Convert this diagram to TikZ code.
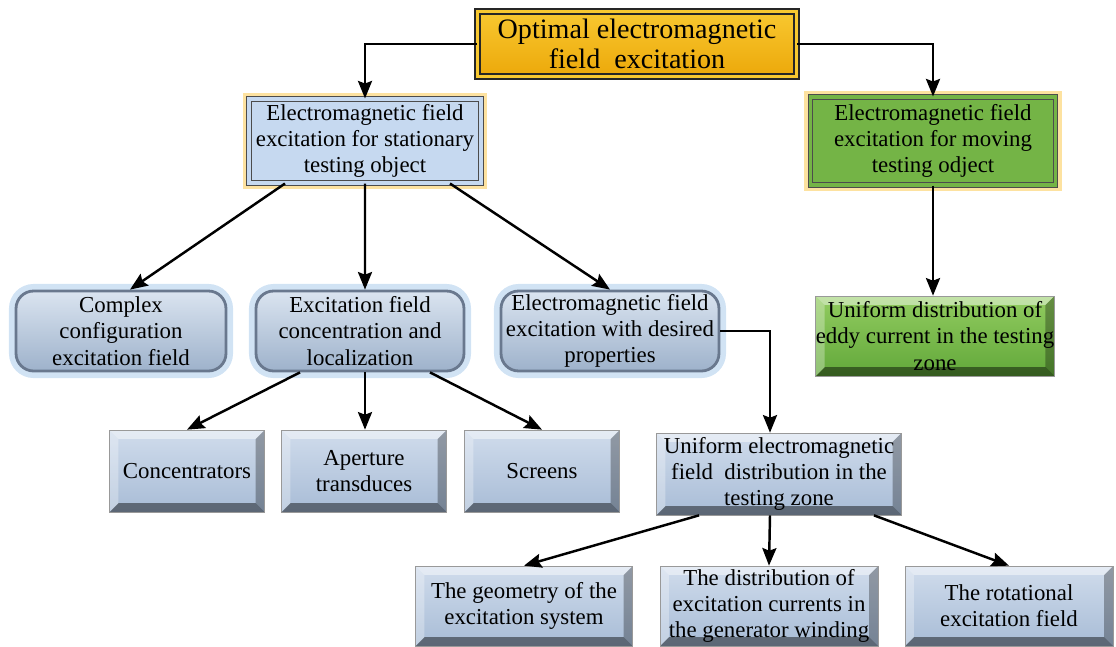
\documentclass[tikz,border=0pt]{standalone}
\usepackage{fontspec}
\setmainfont{Liberation Serif}
\usepackage{xcolor}
\usepackage{tikz}
\usetikzlibrary{arrows.meta,shadings}

\definecolor{goldtop}{RGB}{248,200,48}
\definecolor{goldbot}{RGB}{236,168,10}
\definecolor{glowyellow}{RGB}{253,226,160}
\definecolor{statfill}{RGB}{198,217,240}
\definecolor{movfill}{RGB}{116,180,70}
\definecolor{glowblue}{RGB}{190,215,240}
\definecolor{roundtop}{RGB}{218,228,240}
\definecolor{roundbot}{RGB}{158,178,203}
\definecolor{roundline}{RGB}{105,120,142}
\definecolor{beveltop}{RGB}{208,220,236}
\definecolor{bevelbot}{RGB}{168,188,214}
\definecolor{eddytop}{RGB}{146,204,96}
\definecolor{eddybot}{RGB}{98,168,58}

\tikzset{
  txt/.style={font=\rmfamily\fontsize{13}{15}\selectfont, align=center, inner sep=0pt},
  arr/.style={-{Stealth[length=10pt,width=8pt,inset=1.5pt]}, line width=1.4pt},
  topbox/.style={txt, font=\rmfamily\fontsize{16}{17.5}\selectfont, top color=goldtop, bottom color=goldbot,
    draw=black!85, double=goldtop, double distance=2.2pt, line width=0.8pt},
  glowbox/.style={txt, preaction={draw=glowyellow, line width=7pt},
    draw=black!70, double=#1, double distance=2pt, line width=0.6pt, fill=#1},
  roundbox/.style={txt, rounded corners=10pt, top color=roundtop, bottom color=roundbot,
    preaction={draw=glowblue, line width=8pt, opacity=0.7},
    draw=roundline, line width=1.6pt},
  bevelbox/.style={txt, top color=beveltop, bottom color=bevelbot, draw=black!40, line width=0.4pt,
    path picture={
      \fill[black, opacity=0.45] (path picture bounding box.south west) -- (path picture bounding box.south east)
        -- ([shift={(-5pt,5pt)}]path picture bounding box.south east) -- ([shift={(5pt,5pt)}]path picture bounding box.south west) -- cycle;
      \fill[black, opacity=0.3] (path picture bounding box.south east) -- (path picture bounding box.north east)
        -- ([shift={(-5pt,-5pt)}]path picture bounding box.north east) -- ([shift={(-5pt,5pt)}]path picture bounding box.south east) -- cycle;
      \fill[white, opacity=0.45] (path picture bounding box.north west) -- (path picture bounding box.north east)
        -- ([shift={(-5pt,-5pt)}]path picture bounding box.north east) -- ([shift={(5pt,-5pt)}]path picture bounding box.north west) -- cycle;
      \fill[white, opacity=0.3] (path picture bounding box.south west) -- (path picture bounding box.north west)
        -- ([shift={(5pt,-5pt)}]path picture bounding box.north west) -- ([shift={(5pt,5pt)}]path picture bounding box.south west) -- cycle;
    }},
  eddybox/.style={bevelbox, top color=eddytop, bottom color=eddybot}
}

\begin{document}
\begin{tikzpicture}[x=0.02cm, y=-0.02cm]
\useasboundingbox (0,0) rectangle (1116,646);

% top level
\node[topbox, minimum width=6.38cm, minimum height=1.3cm] (optimal) at (637,44) {Optimal electromagnetic\\field\ \ excitation};

% second level
\node[glowbox=statfill, minimum width=4.64cm, minimum height=1.68cm] (stationary) at (365,141)
  {Electromagnetic field\\excitation for stationary\\testing object};
\node[glowbox=movfill, minimum width=4.9cm, minimum height=1.76cm] (moving) at (933,141)
  {Electromagnetic field\\excitation for moving\\testing odject};

% third level
\node[roundbox, minimum width=4.2cm, minimum height=1.6cm] (complex) at (121,331)
  {Complex\\configuration\\excitation field};
\node[roundbox, minimum width=4.16cm, minimum height=1.6cm] (concentration) at (360,331)
  {Excitation field\\concentration and\\localization};
\node[roundbox, minimum width=4.36cm, minimum height=1.6cm] (desired) at (610,331)
  {Electromagnetic field\\excitation with desired\\properties};
\node[eddybox, minimum width=4.76cm, minimum height=1.6cm] (eddy) at (935,336)
  {Uniform distribution of\\eddy current in the testing\\zone};

% fourth level
\node[bevelbox, minimum width=3.1cm, minimum height=1.64cm] (concentrators) at (187,471) {Concentrators};
\node[bevelbox, minimum width=3.3cm, minimum height=1.64cm] (aperture) at (364,471) {Aperture\\transduces};
\node[bevelbox, minimum width=3.1cm, minimum height=1.64cm] (screens) at (542,471) {Screens};
\node[bevelbox, minimum width=4.9cm, minimum height=1.64cm] (uniform) at (779,474)
  {Uniform electromagnetic\\field\ \ distribution in the\\testing zone};

% bottom level
\node[bevelbox, minimum width=4.34cm, minimum height=1.6cm] (geometry) at (524,606)
  {The geometry of the\\excitation system};
\node[bevelbox, minimum width=4.36cm, minimum height=1.6cm] (distribution) at (769,606)
  {The distribution of\\excitation currents in\\the generator winding};
\node[bevelbox, minimum width=4.16cm, minimum height=1.6cm] (rotational) at (1009,606)
  {The rotational\\excitation field};

% connectors
\draw[arr] (optimal.west) -| (stationary.north);
\draw[arr] (optimal.east) -| (moving.north);
\draw[arr] ([xshift=-1.6cm]stationary.south) -- ([xshift=0.18cm]complex.north);
\draw[arr] (stationary.south) -- ([xshift=0.1cm]concentration.north);
\draw[arr] ([xshift=1.7cm]stationary.south) -- (desired.north);
\draw[arr] (moving.south) -- (moving.south |- eddy.north);
\draw[arr] ([xshift=-1.2cm]concentration.south) -- (concentrators.north);
\draw[arr] ([xshift=0.1cm]concentration.south) -- ([xshift=0.1cm]concentration.south |- aperture.north);
\draw[arr] ([xshift=1.4cm]concentration.south) -- (screens.north);
\draw[arr] (desired.east) -| ([xshift=-0.18cm]uniform.north);
\draw[arr] ([xshift=-1.6cm]uniform.south) -- (geometry.north);
\draw[arr] ([xshift=-0.18cm]uniform.south) -- (distribution.north);
\draw[arr] ([xshift=1.9cm]uniform.south) -- (rotational.north);
\end{tikzpicture}
\end{document}
